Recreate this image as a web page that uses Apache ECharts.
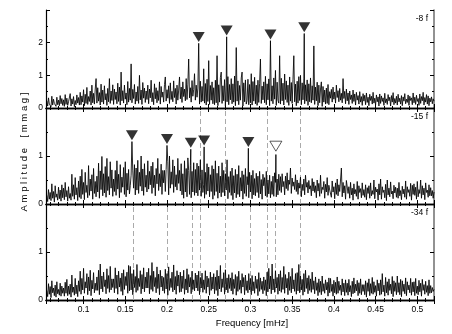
<!DOCTYPE html>
<html>
<head>
<meta charset="utf-8">
<script src="https://cdn.jsdelivr.net/npm/echarts@6/dist/echarts.min.js"></script>
<style>
  html, body { margin: 0; padding: 0; background: #fff; }
  #chart { width: 452px; height: 334px; }
</style>
</head>
<body>
<div id="chart"></div>
<script>
// frequency grid of the amplitude spectra [mHz]
const FREQ_START = 0.056;
const FREQ_STEP = 0.001;

// amplitude in units of 0.01 mmag, one value per grid frequency
const amp8 = [
  22,6,31,12,18,4,36,9,27,14,20,5,33,10,24,7,38,13,29,8,
  25,5,41,11,30,8,19,14,44,6,28,12,35,4,23,10,40,15,32,9,
  48,10,37,18,56,7,42,14,63,11,35,20,52,9,70,16,45,12,58,90,
  15,62,21,47,9,73,18,55,12,68,25,44,8,60,19,90,14,52,23,71,
  11,58,26,49,13,76,20,64,9,110,22,53,15,70,27,46,10,81,18,60,
  24,135,16,57,29,72,12,49,21,66,14,100,25,55,11,78,30,61,17,52,
  26,70,13,58,31,85,19,47,10,74,28,62,16,53,23,80,12,66,33,49,
  18,72,95,21,56,30,68,14,77,26,51,19,83,32,60,12,70,24,55,95,
  28,64,17,80,35,58,22,90,26,73,150,31,62,18,84,36,57,105,24,70,
  33,61,55,12,82,18,66,21,120,15,75,9,88,20,145,11,69,24,80,13,
  62,10,85,16,160,7,71,18,93,110,14,68,22,87,5,79,19,96,10,72,
  25,90,13,74,18,98,7,185,21,83,10,69,24,92,110,6,77,19,86,12,
  23,88,10,72,16,105,9,81,21,94,13,70,8,85,17,76,150,14,67,25,
  80,16,97,10,74,25,89,7,85,21,68,13,92,27,115,8,79,24,15,160,
  12,91,22,76,9,104,26,83,17,70,8,95,21,78,14,88,160,19,73,7,
  82,15,96,23,100,10,77,25,89,13,71,21,86,8,74,19,92,16,68,24,
  190,11,64,22,79,7,70,16,58,80,5,66,18,55,12,61,14,72,10,50,
  30,57,18,64,27,49,15,70,32,53,19,60,24,45,16,90,29,51,13,58,
  22,46,11,52,26,40,14,55,20,43,9,48,24,38,12,50,18,35,8,44,
  21,39,10,46,17,33,7,42,23,36,12,48,15,30,9,40,19,34,6,43,
  14,37,20,31,8,45,16,28,11,41,22,33,6,38,18,47,10,29,15,36,
  9,42,19,30,12,38,7,34,21,44,13,27,17,40,8,36,23,31,10,46,
  16,33,11,39,20,29,8,43,14,35,22,48,9,32,18,41,12,37,7,30,
  19,34,13,28,21
];
const amp15 = [
  18,5,30,10,24,7,42,12,26,4,38,14,21,8,35,11,29,6,40,13,
  33,9,45,15,28,6,36,12,22,8,62,16,40,10,55,19,34,7,48,14,
  58,11,72,20,45,9,66,24,39,13,80,18,52,27,61,10,74,22,47,15,
  58,25,85,12,69,30,99,17,63,23,78,14,95,28,57,19,88,33,71,16,
  52,26,70,18,90,31,62,13,82,24,56,35,76,20,88,15,64,29,72,21,
  38,60,24,69,33,82,19,75,29,91,22,66,37,100,27,73,18,84,35,60,
  25,90,31,68,40,79,22,87,34,60,17,74,42,95,28,63,36,83,20,70,
  44,70,26,72,38,88,19,100,33,67,41,92,24,79,36,61,29,95,43,70,
  27,84,19,63,12,90,25,74,15,96,70,20,80,13,68,25,86,18,72,23,
  85,17,79,29,92,16,71,24,40,12,66,20,84,27,77,15,61,26,80,10,
  73,18,90,26,64,12,79,23,58,15,86,24,70,17,63,29,92,11,57,24,
  68,18,75,9,59,23,72,13,62,20,80,15,55,27,69,10,61,22,74,16,
  57,40,13,66,25,60,11,70,19,53,17,64,24,58,13,68,21,51,10,62,
  38,55,17,68,14,50,21,60,13,47,20,58,16,65,45,15,52,19,62,28,
  57,24,63,36,47,19,58,32,65,28,50,41,75,22,54,37,46,30,61,26,
  50,20,44,33,56,15,41,28,52,19,60,35,45,23,49,31,38,17,53,27,
  46,24,38,13,50,27,43,16,60,22,35,30,47,12,41,25,55,18,39,29,
  33,14,48,25,36,11,44,20,52,17,40,26,30,75,15,45,23,38,10,49,
  50,22,36,12,45,19,33,8,42,21,30,16,47,10,38,24,32,13,44,18,
  30,14,40,9,34,22,38,12,44,17,28,20,50,11,35,25,31,8,42,19,
  52,10,36,24,29,13,41,7,50,19,33,15,46,21,27,11,39,23,35,14,
  33,12,45,17,28,9,37,21,31,14,48,10,36,24,30,16,43,8,39,20,
  42,18,35,10,47,15,30,22,50,12,38,19,33,9,44,24,29,14,40,17,
  34,17,28,12,25
];
const amp34 = [
  20,7,34,12,28,5,40,15,25,9,31,6,38,13,22,10,35,8,29,14,
  25,8,37,14,43,9,29,12,33,6,52,16,27,10,45,13,31,7,40,18,
  60,12,45,21,66,14,38,25,55,11,48,19,62,9,41,23,57,15,35,20,
  48,20,62,11,75,23,50,17,58,28,42,13,65,24,51,16,70,21,44,26,
  44,15,67,24,52,12,60,27,46,18,56,10,63,22,49,30,58,14,72,19,
  70,21,55,11,63,26,49,16,74,20,45,28,61,13,53,23,67,17,48,25,
  58,25,66,13,51,22,78,18,60,28,47,15,69,24,54,11,62,27,50,19,
  47,14,64,23,55,10,69,20,45,26,58,17,73,21,49,12,61,29,52,16,
  58,17,50,24,62,12,44,21,65,15,53,27,47,13,60,22,42,19,56,25,
  52,19,60,11,47,25,56,16,42,22,61,14,50,27,45,10,58,20,48,23,
  55,13,48,20,62,9,50,23,72,17,44,26,57,12,63,21,46,15,53,24,
  46,19,57,12,43,24,53,10,49,18,60,22,41,14,55,27,47,11,52,20,
  40,15,55,21,45,11,51,19,38,14,50,24,43,9,57,18,46,22,39,13,
  48,20,42,9,58,17,66,23,50,13,75,21,44,16,61,25,47,12,54,19,
  61,16,47,22,70,14,53,25,45,11,58,20,49,15,66,23,42,18,55,12,
  57,19,74,15,50,21,43,10,55,17,62,24,46,13,51,20,44,16,58,22,
  40,13,48,20,36,9,44,16,39,11,50,18,34,14,42,21,37,8,46,15,
  45,18,33,8,41,15,37,12,48,14,39,20,31,10,44,17,35,9,42,16,
  35,10,43,17,30,7,39,13,46,15,33,19,41,9,36,14,44,11,32,18,
  32,11,40,6,36,18,44,9,34,14,47,12,38,16,30,8,42,19,35,10,
  42,12,55,17,31,8,47,15,38,10,44,20,33,13,49,7,40,18,36,11,
  50,16,36,11,43,7,40,18,33,13,46,9,38,21,31,15,45,10,37,17,
  38,9,45,14,29,11,41,17,35,8,43,20,32,12,39,16,30,9,42,14,
  30,15,26,18,22
];

// identified peaks (filled triangles), amplitudes in mmag
const peakFreq8 = [0.238, 0.2715, 0.324, 0.3645];
const peakAmp8 = [1.98, 2.18, 2.06, 2.28];
const peakFreq15 = [0.158, 0.2, 0.2285, 0.2445, 0.2975];
const peakAmp15 = [1.30, 1.22, 1.14, 1.19, 1.16];
// uncertain peak (open triangle)
const openFreq15 = [0.3305];
const openAmp15 = [1.03];
const openMark15 = [1.10];

// dashed guide lines
const guides15 = peakFreq8;
const guides34 = [0.158, 0.2, 0.2285, 0.238, 0.2445, 0.2715, 0.2975, 0.324, 0.3305, 0.3645];

const panelNames = ['-8 f', '-15 f', '-34 f'];
const yMax = [3, 2, 2];

function spectrum(amps, pf, pa) {
  const pts = amps.map((a, i) => [+(FREQ_START + i * FREQ_STEP).toFixed(4), a / 100]);
  pf.forEach((f, k) => {
    const j = pts.findIndex(p => Math.abs(p[0] - f) < 1e-6);
    if (j >= 0) pts[j][1] = pa[k];
    else pts.push([f, pa[k]]);
  });
  pts.sort((a, b) => a[0] - b[0]);
  return pts;
}

const FONT = 'Liberation Sans, Arial, sans-serif';
const grids = [
  { left: 46, right: 18, top: 10, height: 98 },
  { left: 46, right: 18, top: 108, height: 96 },
  { left: 46, right: 18, top: 204, height: 96 }
];

const xAxes = [];
const yAxes = [];
for (let i = 0; i < 3; i++) {
  ['bottom', 'top'].forEach(pos => {
    xAxes.push({
      type: 'value', gridIndex: i, position: pos,
      min: 0.055, max: 0.52, splitNumber: 9,
      axisLine: { lineStyle: { color: '#000', width: 1.4 } },
      axisTick: { inside: true, length: 4, lineStyle: { color: '#000' } },
      minorTick: { show: true, splitNumber: 5, length: 2, lineStyle: { color: '#000' } },
      splitLine: { show: false },
      axisLabel: {
        show: i === 2 && pos === 'bottom',
        showMinLabel: false, showMaxLabel: false,
        color: '#000', fontSize: 8.5, fontFamily: FONT, margin: 5
      }
    });
  });
  ['left', 'right'].forEach(pos => {
    yAxes.push({
      type: 'value', gridIndex: i, position: pos,
      min: 0, max: yMax[i], interval: 1,
      axisLine: { show: true, lineStyle: { color: pos === 'left' ? '#000' : '#777', width: pos === 'left' ? 1.2 : 1.6 } },
      axisTick: { show: true, inside: true, length: 4, lineStyle: { color: '#000' } },
      minorTick: { show: true, splitNumber: 2, length: 2, lineStyle: { color: '#000' } },
      splitLine: { show: false },
      axisLabel: {
        show: pos === 'left', showMaxLabel: false,
        color: '#000', fontSize: 8.5, fontFamily: FONT, margin: 3
      }
    });
  });
}

function guideLines(freqs) {
  return {
    silent: true, symbol: ['none', 'none'], animation: false, z: 1,
    label: { show: false },
    lineStyle: { color: '#aaa', type: [5, 3], width: 1 },
    data: freqs.map(f => ({ xAxis: f }))
  };
}

function markers(name, i, freqs, tips, hollow) {
  return {
    name: name, type: 'scatter', xAxisIndex: 2 * i, yAxisIndex: 2 * i, z: 12,
    symbol: 'triangle', symbolRotate: 180, symbolSize: [12, 10], symbolOffset: [0, -5],
    itemStyle: hollow
      ? { color: '#fff', borderColor: '#000', borderWidth: 0.8 }
      : { color: '#000' },
    data: freqs.map((f, k) => [f, tips[k]])
  };
}

const spectra = [
  spectrum(amp8, peakFreq8, peakAmp8),
  spectrum(amp15, peakFreq15.concat(openFreq15), peakAmp15.concat(openAmp15)),
  spectrum(amp34, [], [])
];

const series = [];
spectra.forEach((d, i) => {
  const s = {
    name: panelNames[i], type: 'line', xAxisIndex: 2 * i, yAxisIndex: 2 * i,
    data: d, showSymbol: false, z: 10,
    lineStyle: { color: '#000', width: 0.85 }
  };
  if (i === 1) s.markLine = guideLines(guides15);
  if (i === 2) s.markLine = guideLines(guides34);
  series.push(s);
});
series.push(markers('peaks -8 f', 0, peakFreq8, peakAmp8.map(a => a + 0.04), false));
series.push(markers('peaks -15 f', 1, peakFreq15, peakAmp15.map(a => a + 0.03), false));
series.push(markers('open -15 f', 1, openFreq15, openMark15, true));

const chart = echarts.init(document.getElementById('chart'), null, { renderer: 'canvas' });
chart.setOption({
  animation: false,
  backgroundColor: '#fff',
  grid: grids,
  xAxis: xAxes,
  yAxis: yAxes,
  series: series,
  graphic: [
    { type: 'text', right: 24, top: 14, style: { text: panelNames[0], font: '8.5px ' + FONT, fill: '#000' } },
    { type: 'text', right: 24, top: 112, style: { text: panelNames[1], font: '8.5px ' + FONT, fill: '#000' } },
    { type: 'text', right: 24, top: 208, style: { text: panelNames[2], font: '8.5px ' + FONT, fill: '#000' } },
    { type: 'text', x: 252, y: 323, style: { text: 'Frequency [mHz]', font: '9.5px ' + FONT, fill: '#000', align: 'center', verticalAlign: 'middle' } },
    { type: 'text', x: 24, y: 152, rotation: Math.PI / 2,
      style: { text: 'A m p l i t u d e    [ m m a g ]', font: '9.5px ' + FONT, fill: '#000', align: 'center', verticalAlign: 'middle' } }
  ]
});
</script>
</body>
</html>
